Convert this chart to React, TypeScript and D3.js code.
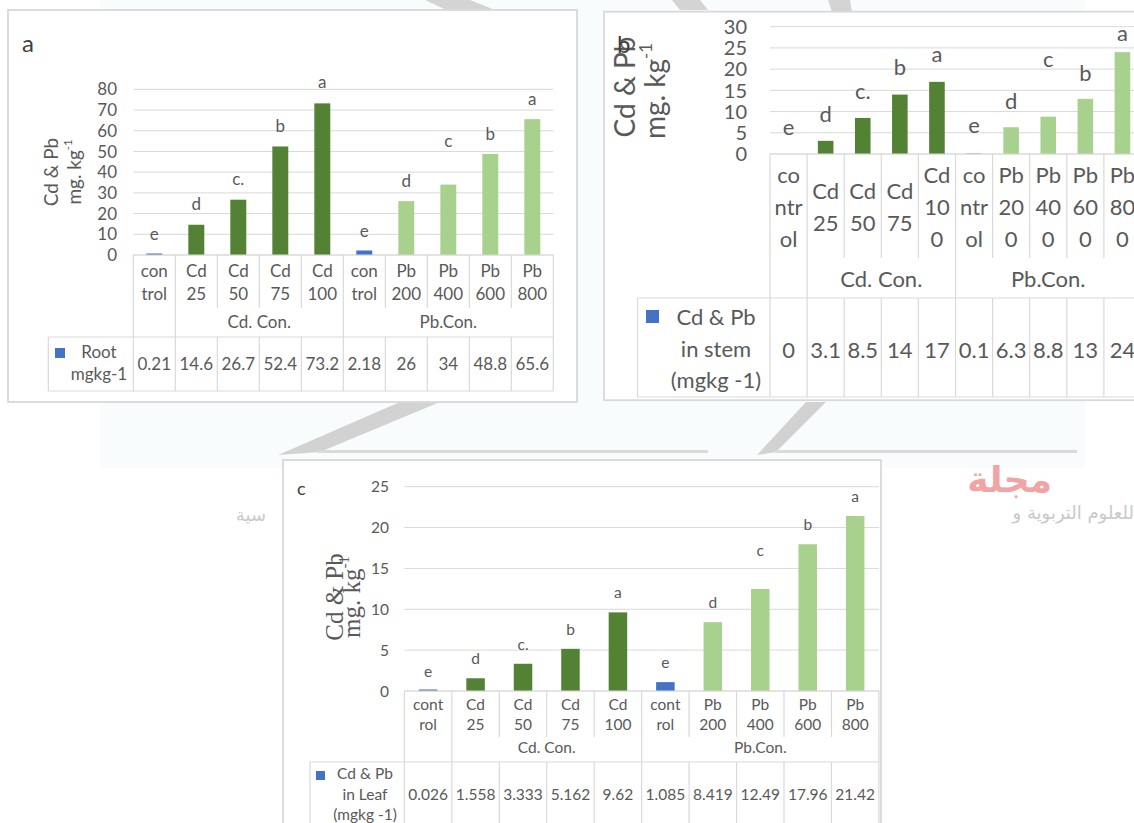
import React from "react";
import * as d3 from "d3";

// ---------- data ----------
const categories = ["control", "Cd 25", "Cd 50", "Cd 75", "Cd 100", "control", "Pb 200", "Pb 400", "Pb 600", "Pb 800"];
const groupOf = ["control", "Cd", "Cd", "Cd", "Cd", "control", "Pb", "Pb", "Pb", "Pb"];
const groupNames = ["Cd. Con.", "Pb.Con."];
const groupStart = [1, 5];
const groupEnd = [5, 10];

const rootValues = [0.21, 14.6, 26.7, 52.4, 73.2, 2.18, 26, 34, 48.8, 65.6];
const stemValues = [0, 3.1, 8.5, 14, 17, 0.1, 6.3, 8.8, 13, 24];
const leafValues = [0.026, 1.558, 3.333, 5.162, 9.62, 1.085, 8.419, 12.49, 17.96, 21.42];

const letters = ["e", "d", "c.", "b", "a", "e", "d", "c", "b", "a"];
// y value (data units) at which each significance letter sits
const rootLetterAt = [7.2, 21.7, 33.8, 59.4, 80.7, 8.8, 33, 52.3, 55.6, 72.5];
const stemLetterAt = [4.45, 7.6, 13.0, 18.7, 21.6, 4.85, 10.7, 20.4, 17.3, 26.7];
const leafLetterAt = [1.75, 3.27, 5.02, 6.85, 11.35, 2.78, 10.1, 16.56, 19.7, 23.17];

const rootCatLines = [["con", "trol"], ["Cd", "25"], ["Cd", "50"], ["Cd", "75"], ["Cd", "100"], ["con", "trol"], ["Pb", "200"], ["Pb", "400"], ["Pb", "600"], ["Pb", "800"]];
const stemCatLines = [["co", "ntr", "ol"], ["Cd", "25"], ["Cd", "50"], ["Cd", "75"], ["Cd", "10", "0"], ["co", "ntr", "ol"], ["Pb", "20", "0"], ["Pb", "40", "0"], ["Pb", "60", "0"], ["Pb", "80", "0"]];
const leafCatLines = [["cont", "rol"], ["Cd", "25"], ["Cd", "50"], ["Cd", "75"], ["Cd", "100"], ["cont", "rol"], ["Pb", "200"], ["Pb", "400"], ["Pb", "600"], ["Pb", "800"]];

const rootLegend = ["Root", "mgkg-1"];
const stemLegend = ["Cd & Pb", "in stem", "(mgkg -1)"];
const leafLegend = ["Cd & Pb", "in Leaf", "(mgkg -1)"];

const titleLine1 = "Cd & Pb";
const titleLine2 = "mg. kg";
const titleSup = "-1";

// ---------- style ----------
const TEXT = "#595959";
const GRID = "#d9d9d9";
const SANS = "Lato, 'Open Sans', sans-serif";
const SERIF = "'Liberation Serif', 'DejaVu Serif', serif";
const COLORS: Record<string, string> = { control: "#4472C4", Cd: "#548235", Pb: "#A9D18E" };

type Cfg = {
  frame: [number, number, number, number];
  plotLeft: number; step: number; y0: number; yTop: number; yMax: number; yStep: number;
  tickX: number; tickFont: number; font: number;
  catBase: number; catLh: number; catBottom: number; groupBase: number;
  tableTop: number; tableBottom: number; valBase: number;
  legLeft: number; legSq: [number, number, number]; legX: number; legBase: number; legLh: number;
  letterFont: number; titleFont: number; titleFamily: string;
  title1: [number, number]; title2: [number, number];
  panelLabel: string; labelPos: [number, number]; labelFont: number; minBar: number; barRatio: number;
};

const cfgA: Cfg = {
  frame: [8, 10, 569, 392], plotLeft: 133.3, step: 42, y0: 255, yTop: 89.3, yMax: 80, yStep: 10,
  tickX: 117, tickFont: 17, font: 17, catBase: 288.5, catLh: 23, catBottom: 308, groupBase: 328,
  tableTop: 337, tableBottom: 391, valBase: 370, legLeft: 48.3, legSq: [55, 348, 10], legX: 99, legBase: 358, legLh: 22,
  letterFont: 17, titleFont: 19, titleFamily: SANS, title1: [58, 172], title2: [81, 172],
  panelLabel: "a", labelPos: [22, 52], labelFont: 24, minBar: 1.5, barRatio: 0.38,
};
const cfgB: Cfg = {
  frame: [604, 11.7, 560, 388.5], plotLeft: 770, step: 37.1, y0: 154, yTop: 26.7, yMax: 30, yStep: 5,
  tickX: 747, tickFont: 20, font: 22, catBase: 215, catLh: 32, catBottom: 258, groupBase: 287,
  tableTop: 298, tableBottom: 397, valBase: 358, legLeft: 637.5, legSq: [646, 310, 13], legX: 716, legBase: 325, legLh: 31.5,
  letterFont: 22, titleFont: 28, titleFamily: SANS, title1: [635, 87], title2: [665, 91],
  panelLabel: "b", labelPos: [617, 53], labelFont: 24, minBar: 0, barRatio: 0.42,
};
const cfgC: Cfg = {
  frame: [283, 460, 598, 400], plotLeft: 404.4, step: 47.45, y0: 691, yTop: 486.7, yMax: 25, yStep: 5,
  tickX: 389, tickFont: 15.5, font: 15.5, catBase: 720, catLh: 20, catBottom: 737, groupBase: 753,
  tableTop: 762, tableBottom: 840, valBase: 800, legLeft: 310, legSq: [316, 771, 9], legX: 365, legBase: 779, legLh: 20.5,
  letterFont: 15.5, titleFont: 25, titleFamily: SERIF, title1: [343, 597], title2: [360, 597],
  panelLabel: "c", labelPos: [297, 495], labelFont: 18, minBar: 1.5, barRatio: 0.39,
};

function Panel({ cfg, values, letterAt, catLines, legend }: { cfg: Cfg; values: number[]; letterAt: number[]; catLines: string[][]; legend: string[] }) {
  const idx = d3.range(categories.length);
  const right = cfg.plotLeft + cfg.step * categories.length;
  const x = d3.scaleBand<number>().domain(idx).range([cfg.plotLeft, right]).padding(0);
  const y = d3.scaleLinear().domain([0, cfg.yMax]).range([cfg.y0, cfg.yTop]);
  const ticks = d3.range(0, cfg.yMax + cfg.yStep / 2, cfg.yStep);
  const bw = x.bandwidth() * cfg.barRatio;
  const bounds = [...idx.map((i) => x(i) as number), right];
  const fullLines = new Set<number>([0, ...groupStart, ...groupEnd]);
  const [fx, fy, fw, fh] = cfg.frame;
  const supSize = cfg.titleFont * 0.6;

  return (
    <g>
      <rect x={fx} y={fy} width={fw} height={fh} fill="#fff" stroke={GRID} strokeWidth={1.8} />
      {ticks.map((t) => (
        <line key={"g" + t} x1={cfg.plotLeft} x2={right} y1={y(t)} y2={y(t)} stroke={GRID} strokeWidth={1} />
      ))}
      {ticks.map((t) => (
        <text key={"t" + t} x={cfg.tickX} y={y(t)} dy="0.36em" textAnchor="end" fontSize={cfg.tickFont} fill={TEXT} fontFamily={SANS}>{t}</text>
      ))}
      {values.map((v, i) => {
        const h = Math.max(cfg.y0 - y(v), v > 0 ? cfg.minBar : 0);
        return (
          <rect key={"b" + i} x={(x(i) as number) + (x.bandwidth() - bw) / 2} y={cfg.y0 - h} width={bw} height={h} fill={COLORS[groupOf[i]]} />
        );
      })}
      {letters.map((l, i) => (
        <text key={"l" + i} x={(x(i) as number) + x.bandwidth() / 2} y={y(letterAt[i])} textAnchor="middle" fontSize={cfg.letterFont} fill={TEXT} fontFamily={SANS}>{l}</text>
      ))}
      <line x1={cfg.plotLeft} x2={right} y1={cfg.y0} y2={cfg.y0} stroke={GRID} strokeWidth={1.2} />
      {bounds.map((bx, k) =>
        fullLines.has(k) ? (
          <line key={"v" + k} x1={bx} x2={bx} y1={cfg.y0} y2={cfg.tableBottom} stroke={GRID} strokeWidth={1.2} />
        ) : (
          <g key={"v" + k}>
            <line x1={bx} x2={bx} y1={cfg.y0} y2={cfg.catBottom} stroke={GRID} strokeWidth={1.2} />
            <line x1={bx} x2={bx} y1={cfg.tableTop} y2={cfg.tableBottom} stroke={GRID} strokeWidth={1.2} />
          </g>
        )
      )}
      <line x1={cfg.legLeft} x2={right} y1={cfg.tableTop} y2={cfg.tableTop} stroke={GRID} strokeWidth={1.2} />
      <line x1={cfg.legLeft} x2={right} y1={cfg.tableBottom} y2={cfg.tableBottom} stroke={GRID} strokeWidth={1.2} />
      <line x1={cfg.legLeft} x2={cfg.legLeft} y1={cfg.tableTop} y2={cfg.tableBottom} stroke={GRID} strokeWidth={1.2} />
      {catLines.map((lines, i) => (
        <g key={"c" + i}>
          {lines.map((s, j) => (
            <text key={j} x={(x(i) as number) + x.bandwidth() / 2} y={cfg.catBase + (j - (lines.length - 1) / 2) * cfg.catLh}
              textAnchor="middle" fontSize={cfg.font} fill={TEXT} fontFamily={SANS}>{s}</text>
          ))}
        </g>
      ))}
      {groupNames.map((g, k) => (
        <text key={"gr" + k} x={(bounds[groupStart[k]] + bounds[groupEnd[k]]) / 2} y={cfg.groupBase} textAnchor="middle" fontSize={cfg.font} fill={TEXT} fontFamily={SANS}>{g}</text>
      ))}
      {values.map((v, i) => (
        <text key={"val" + i} x={(x(i) as number) + x.bandwidth() / 2} y={cfg.valBase} textAnchor="middle" fontSize={cfg.font} fill={TEXT} fontFamily={SANS}>{String(v)}</text>
      ))}
      <rect x={cfg.legSq[0]} y={cfg.legSq[1]} width={cfg.legSq[2]} height={cfg.legSq[2]} fill={COLORS.control} />
      {legend.map((s, j) => (
        <text key={"lg" + j} x={cfg.legX} y={cfg.legBase + j * cfg.legLh} textAnchor="middle" fontSize={cfg.font} fill={TEXT} fontFamily={SANS}>{s}</text>
      ))}
      <text transform={`translate(${cfg.title1[0]},${cfg.title1[1]}) rotate(-90)`} textAnchor="middle" fontSize={cfg.titleFont} fill={TEXT} fontFamily={cfg.titleFamily}>{titleLine1}</text>
      <text transform={`translate(${cfg.title2[0]},${cfg.title2[1]}) rotate(-90)`} textAnchor="middle" fontSize={cfg.titleFont} fill={TEXT} fontFamily={cfg.titleFamily}>
        {titleLine2}
        <tspan dy={-cfg.titleFont * 0.45} fontSize={supSize}>{titleSup}</tspan>
      </text>
      <text x={cfg.labelPos[0]} y={cfg.labelPos[1]} fontSize={cfg.labelFont} fill="#404040" fontFamily={SANS}>{cfg.panelLabel}</text>
    </g>
  );
}

function Watermark() {
  return (
    <g>
      <rect x={100} y={0} width={985} height={468} fill="#f8fcfd" />
      <polygon points="425,0 470,0 505,14 455,14" fill="#d4d4d4" />
      <polygon points="672,0 700,0 708,10 680,10" fill="#d4d4d4" />
      <polygon points="828,0 850,0 852,12 832,12" fill="#d4d4d4" />
      <polygon points="400,402 440,402 320,452 278,455" fill="#d2d2d2" />
      <rect x={318} y={450} width={390} height={3} fill="#dadada" />
      <polygon points="806,402 826,402 776,452 757,455" fill="#d2d2d2" />
      <rect x={775} y={450} width={302} height={3} fill="#dadada" />
      <text x={1052} y={492} textAnchor="end" fontSize={36} fontWeight="bold" fill="#f2a3a3" fontFamily="'DejaVu Sans', sans-serif">مجلة</text>
      <text x={1134} y={519} textAnchor="end" fontSize={18} fill="#c9c9c9" fontFamily="'DejaVu Sans', sans-serif">للعلوم التربوية و</text>
      <text x={266} y={521} textAnchor="end" fontSize={18} fill="#c9c9c9" fontFamily="'DejaVu Sans', sans-serif">سية</text>
    </g>
  );
}

export default function App() {
  return (
    <svg width={1134} height={823} style={{ position: "absolute", left: 0, top: 0, background: "#fff" }}>
      <Watermark />
      <Panel cfg={cfgA} values={rootValues} letterAt={rootLetterAt} catLines={rootCatLines} legend={rootLegend} />
      <Panel cfg={cfgB} values={stemValues} letterAt={stemLetterAt} catLines={stemCatLines} legend={stemLegend} />
      <Panel cfg={cfgC} values={leafValues} letterAt={leafLetterAt} catLines={leafCatLines} legend={leafLegend} />
    </svg>
  );
}
